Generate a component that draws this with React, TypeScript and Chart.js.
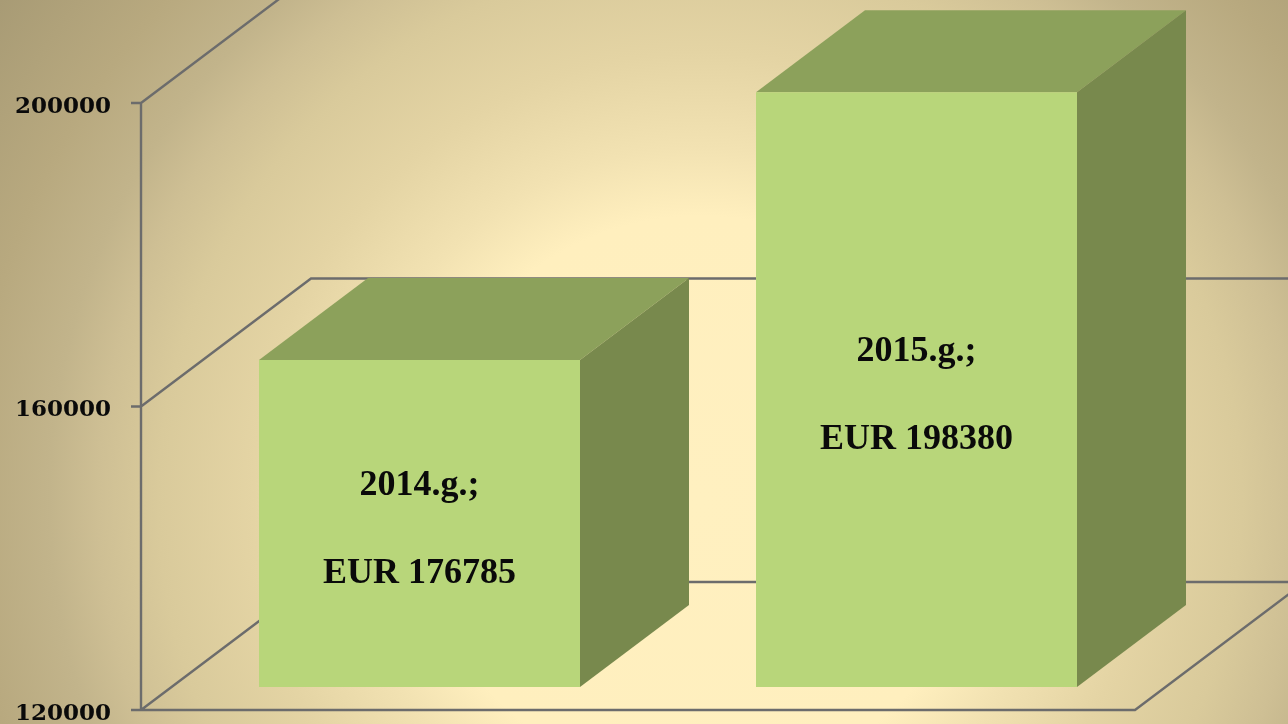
import React, { useEffect, useRef } from "react";
import { Chart, registerables } from "chart.js";

Chart.register(...registerables);

const categories = ["2014.g.;", "2015.g.;"];
const printedLabels = ["EUR 176785", "EUR 198380"];
// Bar heights as drawn in the picture. The 2014 bar is drawn lower than its printed 176785.
const drawnValues = [163100, 198380];
const tickValues = [120000, 160000, 200000];
const axisBase = 120000;

const DEPTH_WALL = { dx: 170, dy: -128 };
const DEPTH_BAR = { dx: 109, dy: -82 };
const BAR_SHIFT = { dx: 30, dy: -23 };
const LINE = "#6c6c6c";
const FRONT = "#b8d67a";
const TOP = "#8ca15b";
const SIDE = "#78894d";
const INK = "#0a0a0a";
const LABEL_FONT = 'bold 36px "Liberation Serif"';

const poly = (ctx: CanvasRenderingContext2D, pts: number[][], fill: string) => {
  ctx.beginPath();
  pts.forEach(([x, y], i) => (i ? ctx.lineTo(x, y) : ctx.moveTo(x, y)));
  ctx.closePath();
  ctx.fillStyle = fill;
  ctx.fill();
};

const scene = {
  id: "scene",
  beforeDraw(chart: any) {
    const { ctx, width, height } = chart;
    ctx.save();
    const g = ctx.createRadialGradient(700, 500, 0, 700, 500, 860);
    g.addColorStop(0, "#fff0c0");
    g.addColorStop(0.33, "#ffefbe");
    g.addColorStop(0.41, "#f2e2b2");
    g.addColorStop(0.52, "#e4d4a4");
    g.addColorStop(0.63, "#d9ca9b");
    g.addColorStop(0.7, "#cebf94");
    g.addColorStop(0.756, "#c2b48b");
    g.addColorStop(0.85, "#b8a97f");
    g.addColorStop(1, "#a89b75");
    ctx.fillStyle = g;
    ctx.fillRect(0, 0, width, height);
    ctx.restore();
  },
  beforeDatasetsDraw(chart: any) {
    const { ctx, chartArea, scales, width } = chart;
    const { left, right, bottom, top } = chartArea;
    ctx.save();
    ctx.strokeStyle = LINE;
    ctx.lineWidth = 2.4;
    ctx.beginPath();
    tickValues.forEach((v) => {
      const y = scales.y.getPixelForValue(v);
      ctx.moveTo(left - 10, y);
      ctx.lineTo(left, y);
      ctx.lineTo(left + DEPTH_WALL.dx, y + DEPTH_WALL.dy);
      ctx.lineTo(width, y + DEPTH_WALL.dy);
    });
    ctx.moveTo(left, top);
    ctx.lineTo(left, bottom);
    ctx.moveTo(left, bottom);
    ctx.lineTo(right, bottom);
    ctx.lineTo(right + DEPTH_WALL.dx, bottom + DEPTH_WALL.dy);
    ctx.stroke();
    ctx.restore();
    // bars stand back from the front edge of the floor
    ctx.save();
    ctx.translate(BAR_SHIFT.dx, BAR_SHIFT.dy);
    chart.getDatasetMeta(0).data.forEach((bar: any) => {
      const { x, y, base, width: w } = bar.getProps(["x", "y", "base", "width"], true);
      const l = x - w / 2;
      const r = x + w / 2;
      const { dx, dy } = DEPTH_BAR;
      poly(ctx, [[l, y], [r, y], [r + dx, y + dy], [l + dx, y + dy]], TOP);
      poly(ctx, [[r, y], [r + dx, y + dy], [r + dx, base + dy], [r, base]], SIDE);
    });
  },
  afterDatasetsDraw(chart: any) {
    chart.ctx.restore();
  },
  afterDraw(chart: any) {
    const { ctx } = chart;
    ctx.save();
    chart.getDatasetMeta(0).data.forEach((bar: any, i: number) => {
      const { x, y, base } = bar.getProps(["x", "y", "base"], true);
      const mid = (y + base) / 2 + BAR_SHIFT.dy;
      const cx = x + BAR_SHIFT.dx;
      ctx.font = LABEL_FONT;
      ctx.fillStyle = INK;
      ctx.textAlign = "center";
      ctx.textBaseline = "middle";
      ctx.fillText(categories[i], cx, mid - 38);
      ctx.fillText(printedLabels[i], cx, mid + 50);
    });
    ctx.restore();
  },
};

export default function App() {
  const ref = useRef<HTMLCanvasElement>(null);
  useEffect(() => {
    document.body.style.margin = "0";
    document.body.style.overflow = "hidden";
    const chart = new Chart(ref.current!, {
      type: "bar",
      data: {
        labels: categories,
        datasets: [
          {
            data: drawnValues,
            base: axisBase,
            backgroundColor: FRONT,
            borderWidth: 0,
            barPercentage: 321 / 497,
            categoryPercentage: 1,
            clip: false as any,
          },
        ],
      },
      options: {
        responsive: false,
        animation: false,
        layout: { padding: { top: 103, bottom: 14, right: 153, left: 0 } },
        plugins: { legend: { display: false }, tooltip: { enabled: false }, title: { display: false } },
        scales: {
          x: {
            display: false,
            grid: { display: false },
          },
          y: {
            min: 120000,
            max: 200000,
            grid: { display: false },
            border: { display: false },
            afterFit: (s: any) => {
              s.width = 141;
              s.paddingTop = 0;
              s.paddingBottom = 0;
            },
            afterBuildTicks: (s: any) => {
              s.ticks = tickValues.map((value) => ({ value }));
            },
            ticks: {
              padding: 22,
              labelOffset: 4,
              color: INK,
              font: { family: '"DejaVu Serif"', size: 23, weight: "bold" },
              autoSkip: false,
              callback: (v: any) => String(v),
            },
          },
        },
      },
      plugins: [scene],
    } as any);
    return () => chart.destroy();
  }, []);
  return <canvas ref={ref} width={1288} height={724} style={{ display: "block" }} />;
}
